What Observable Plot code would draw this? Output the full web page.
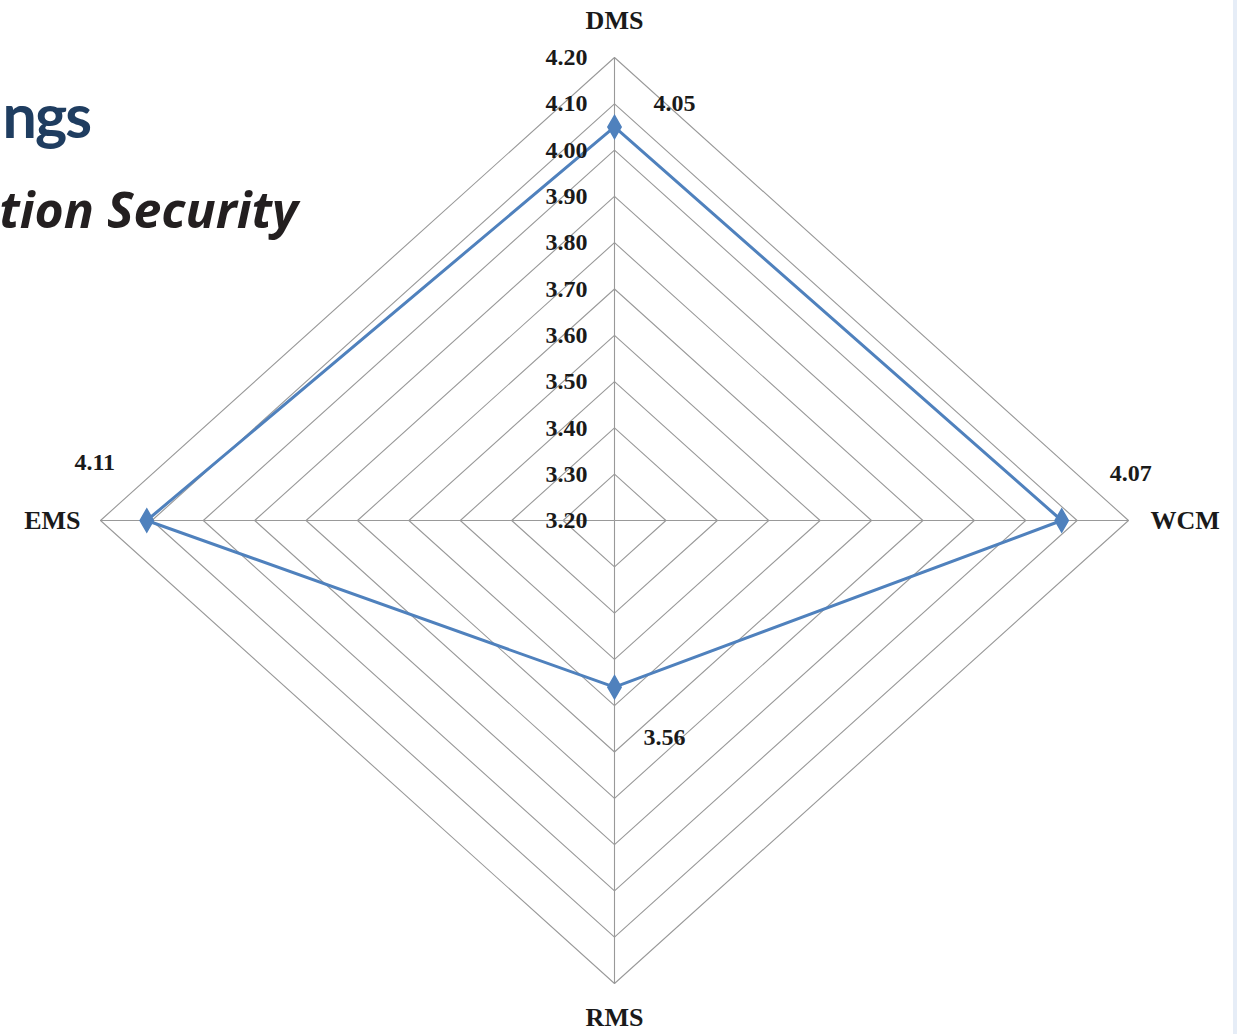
<!DOCTYPE html>
<html>
<head>
<meta charset="utf-8">
<script src="https://cdn.jsdelivr.net/npm/d3@7"></script>
<script src="https://cdn.jsdelivr.net/npm/@observablehq/plot@0.6"></script>
<style>
  html, body { margin: 0; padding: 0; background: #fff; }
  #wrap { position: relative; width: 1237px; height: 1034px; overflow: hidden; }
  #strip { position: absolute; right: 0; top: 0; width: 4px; height: 1034px; background: #e6edf7; }
  .frag { position: absolute; white-space: nowrap; text-align: right; }
  #t1 { right: calc(1237px - 90px); top: 78px; font: 700 61px Lato, sans-serif; color: #1f3d60; letter-spacing: -2px; }
  #t2 { right: calc(1237px - 298px); top: 175px; font: italic 700 50px "Open Sans", sans-serif; color: #231f20; letter-spacing: 0px; }
  #chart { position: absolute; left: 0; top: 0; }
</style>
</head>
<body>
<div id="wrap">
  <div id="chart"></div>
  <div class="frag" id="t1">ngs</div>
  <div class="frag" id="t2">tion Security</div>
  <div id="strip"></div>
</div>
<script>
// ---- data ----
const categories = ["DMS", "WCM", "RMS", "EMS"];
const values = [4.05, 4.07, 3.56, 4.11];
const valueLabels = ["4.05", "4.07", "3.56", "4.11"];
const tickValues = [3.2, 3.3, 3.4, 3.5, 3.6, 3.7, 3.8, 3.9, 4.0, 4.1, 4.2];
const tickLabels = ["3.20", "3.30", "3.40", "3.50", "3.60", "3.70", "3.80", "3.90", "4.00", "4.10", "4.20"];
const axisMin = 3.2, axisMax = 4.2;

// ---- layout / style ----
const dirs = [[0, 1], [1, 0], [0, -1], [-1, 0]]; // DMS up, WCM right, RMS down, EMS left
const valueLabelOffsets = [[60, -24], [69, -47], [50, 50], [-52, -58]];
const catLabelStyle = [
  {dx: 0, dy: -37, anchor: "middle"},
  {dx: 22, dy: 0, anchor: "start"},
  {dx: 0, dy: 34, anchor: "middle"},
  {dx: -20, dy: 0, anchor: "end"}
];
const serif = "'Liberation Serif', 'Times New Roman', serif";
const lineColor = "#4f81bd";
const gridColor = "#999999";

const frac = v => (v - axisMin) / (axisMax - axisMin);

// rings
const rings = [];
tickValues.slice(1).forEach(lv => {
  const r = frac(lv);
  [0, 1, 2, 3, 0].forEach((k, i) => rings.push({level: lv, i, x: dirs[k][0] * r, y: dirs[k][1] * r}));
});
// spokes
const spokes = categories.map((c, k) => ({x1: 0, y1: 0, x2: dirs[k][0], y2: dirs[k][1]}));
// series
const pts = categories.map((c, k) => ({cat: c, v: values[k], label: valueLabels[k], k,
  x: dirs[k][0] * frac(values[k]), y: dirs[k][1] * frac(values[k])}));
const seriesLine = [...pts, pts[0]];
// tick labels (along top spoke)
const ticks = tickValues.map((t, i) => ({x: 0, y: frac(t), label: tickLabels[i]}));
// category labels
const cats = categories.map((c, k) => ({x: dirs[k][0], y: dirs[k][1], label: c, k}));

const marks = [
  Plot.line(rings, {x: "x", y: "y", z: "level", stroke: gridColor, strokeWidth: 1.1}),
  Plot.link(spokes, {x1: "x1", y1: "y1", x2: "x2", y2: "y2", stroke: gridColor, strokeWidth: 1.1}),
  Plot.line(seriesLine, {x: "x", y: "y", stroke: lineColor, strokeWidth: 3, strokeLinejoin: "round"}),
  Plot.dot(pts, {x: "x", y: "y", symbol: "diamond", r: 7, fill: lineColor, stroke: lineColor}),
  Plot.text(ticks, {x: "x", y: "y", text: "label", dx: -27, textAnchor: "end", fontFamily: serif,
    fontWeight: "bold", fontSize: 24, fill: "#1a1a1a"})
];
pts.forEach((p, k) => {
  marks.push(Plot.text([p], {x: "x", y: "y", text: "label", dx: valueLabelOffsets[k][0], dy: valueLabelOffsets[k][1],
    fontFamily: serif, fontWeight: "bold", fontSize: 24, fill: "#1a1a1a"}));
});
cats.forEach((c, k) => {
  const s = catLabelStyle[k];
  marks.push(Plot.text([c], {x: "x", y: "y", text: "label", dx: s.dx, dy: s.dy, textAnchor: s.anchor,
    fontFamily: serif, fontWeight: "bold", fontSize: 26, fill: "#1a1a1a"}));
});

const chart = Plot.plot({
  width: 1237,
  height: 1034,
  margin: 0,
  x: {domain: [-1, 1], range: [100, 1128], axis: null},
  y: {domain: [-1, 1], range: [983, 57], axis: null},
  style: {background: "transparent", overflow: "visible"},
  marks
});
document.getElementById("chart").appendChild(chart);
</script>
</body>
</html>
